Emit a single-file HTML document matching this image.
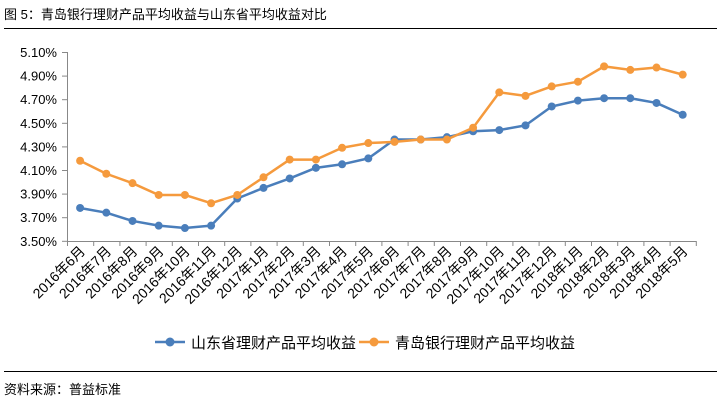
<!DOCTYPE html>
<html><head><meta charset="utf-8"><style>
body{margin:0;background:#fff;width:721px;height:402px;overflow:hidden;font-family:"Liberation Sans","Noto Sans CJK SC",sans-serif;}
</style></head><body>
<svg id="s" width="721" height="402" xmlns="http://www.w3.org/2000/svg" font-family="Liberation Sans, Noto Sans CJK SC, sans-serif">
<text x="4" y="19" font-size="13" fill="#000">图 5：青岛银行理财产品平均收益与山东省平均收益对比</text>
<line x1="4" y1="28.5" x2="717" y2="28.5" stroke="#000" stroke-width="1"/>
<line x1="4" y1="371.5" x2="717" y2="371.5" stroke="#000" stroke-width="1"/>
<text x="4" y="394" font-size="13" fill="#000">资料来源：普益标准</text>
<g font-size="13" fill="#000" text-anchor="end">
<text x="57" y="57">5.10%</text><text x="57" y="80.6">4.90%</text><text x="57" y="104.2">4.70%</text><text x="57" y="127.8">4.50%</text><text x="57" y="151.4">4.30%</text><text x="57" y="175">4.10%</text><text x="57" y="198.6">3.90%</text><text x="57" y="222.2">3.70%</text><text x="57" y="245.8">3.50%</text>
</g>
<g id="ax" stroke="#888" stroke-width="1"></g>
<g font-size="14" fill="#000" text-anchor="end" id="xl">
<text transform="translate(86,252) rotate(-45)">2016年6月</text>
<text transform="translate(112.2,252) rotate(-45)">2016年7月</text>
<text transform="translate(138.4,252) rotate(-45)">2016年8月</text>
<text transform="translate(164.6,252) rotate(-45)">2016年9月</text>
<text transform="translate(190.8,252) rotate(-45)">2016年10月</text>
<text transform="translate(217,252) rotate(-45)">2016年11月</text>
<text transform="translate(243.2,252) rotate(-45)">2016年12月</text>
<text transform="translate(269.4,252) rotate(-45)">2017年1月</text>
<text transform="translate(295.6,252) rotate(-45)">2017年2月</text>
<text transform="translate(321.8,252) rotate(-45)">2017年3月</text>
<text transform="translate(348,252) rotate(-45)">2017年4月</text>
<text transform="translate(374.2,252) rotate(-45)">2017年5月</text>
<text transform="translate(400.4,252) rotate(-45)">2017年6月</text>
<text transform="translate(426.6,252) rotate(-45)">2017年7月</text>
<text transform="translate(452.8,252) rotate(-45)">2017年8月</text>
<text transform="translate(479,252) rotate(-45)">2017年9月</text>
<text transform="translate(505.2,252) rotate(-45)">2017年10月</text>
<text transform="translate(531.4,252) rotate(-45)">2017年11月</text>
<text transform="translate(557.6,252) rotate(-45)">2017年12月</text>
<text transform="translate(583.8,252) rotate(-45)">2018年1月</text>
<text transform="translate(610,252) rotate(-45)">2018年2月</text>
<text transform="translate(636.2,252) rotate(-45)">2018年3月</text>
<text transform="translate(662.4,252) rotate(-45)">2018年4月</text>
<text transform="translate(688.6,252) rotate(-45)">2018年5月</text>
</g>
<g id="ser"></g>
<line x1="155" y1="342" x2="185" y2="342" stroke="#4a7ebb" stroke-width="2.5"/><circle cx="170" cy="342" r="4.5" fill="#4a7ebb"/>
<text x="191" y="348" font-size="15" fill="#000">山东省理财产品平均收益</text>
<line x1="359" y1="342" x2="389" y2="342" stroke="#f59a3d" stroke-width="2.5"/><circle cx="374" cy="342" r="4.5" fill="#f59a3d"/>
<text x="395" y="348" font-size="15" fill="#000">青岛银行理财产品平均收益</text>
</svg>
<script>
var NS="http://www.w3.org/2000/svg";
function el(p,t,a){var e=document.createElementNS(NS,t);for(var k in a)e.setAttribute(k,a[k]);p.appendChild(e);return e;}
var ax=document.getElementById('ax');
el(ax,'line',{x1:67.5,y1:52,x2:67.5,y2:241});
el(ax,'line',{x1:67,y1:241.5,x2:696,y2:241.5});
for(var i=0;i<9;i++){var y=52+i*23.6;el(ax,'line',{x1:62,y1:y+0.5,x2:67,y2:y+0.5});}
for(var i=0;i<=24;i++){var x=67+i*26.2;el(ax,'line',{x1:x+0.5,y1:241,x2:x+0.5,y2:246});}
var a=[3.78,3.74,3.67,3.63,3.61,3.63,3.86,3.95,4.03,4.12,4.15,4.20,4.36,4.36,4.38,4.43,4.44,4.48,4.64,4.69,4.71,4.71,4.67,4.57];
var b=[4.18,4.07,3.99,3.89,3.89,3.82,3.89,4.04,4.19,4.19,4.29,4.33,4.34,4.36,4.36,4.46,4.76,4.73,4.81,4.85,4.98,4.95,4.97,4.91];
var g=document.getElementById('ser');
[[a,'#4a7ebb'],[b,'#f59a3d']].forEach(function(s){
 var pts=s[0].map(function(v,i){return [80.1+i*26.2,241-(v-3.5)/0.2*23.6];});
 el(g,'polyline',{points:pts.map(function(p){return p.join(',')}).join(' '),fill:'none',stroke:s[1],'stroke-width':2.5,'stroke-linejoin':'round'});
 pts.forEach(function(p){el(g,'circle',{cx:p[0],cy:p[1],r:4,fill:s[1]});});
});
</script>
</body></html>
